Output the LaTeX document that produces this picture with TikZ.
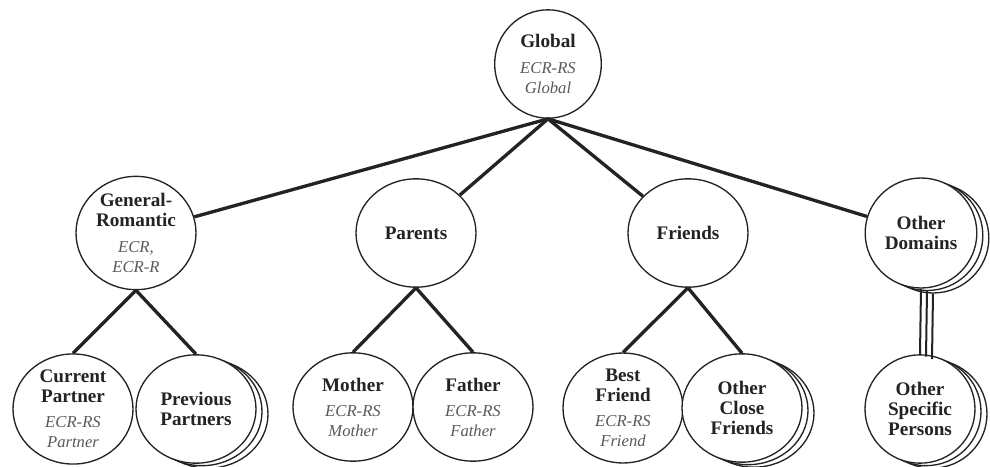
\documentclass[tikz,border=0pt]{standalone}
\usepackage{fontspec}
\setmainfont{Liberation Serif}
\usepackage{tikz}
\usetikzlibrary{shapes.geometric}
\definecolor{ink}{RGB}{35,35,35}
\definecolor{subink}{RGB}{90,90,90}
\newcommand{\scl}[1]{{\normalfont\itshape\fontsize{10}{11}\selectfont\color{subink}#1}}

\begin{document}
\begin{tikzpicture}[x=0.6pt, y=-0.6pt,
  dom/.style={draw=ink, ellipse, fill=white, line width=0.8pt, minimum width=72pt,
    minimum height=65pt, inner sep=0pt, align=center, font=\fontsize{11.5}{12}\selectfont\bfseries, text=ink},
  tie/.style={draw=ink, line width=2pt},
  ties/.style={draw=ink, line width=1.2pt}]
  \useasboundingbox (0,0) rectangle (990,466);
  % top
  \node[dom, minimum width=64pt, minimum height=65pt] (glob) at (548,64)
    {Global\\[4pt]\scl{ECR-RS}\\\scl{Global}};
  % domains
  \node[dom] (gr) at (136,233) {General-\\Romantic\\[4pt]\scl{ECR,}\\\scl{ECR-R}};
  \node[dom] (par) at (416,233) {Parents};
  \node[dom] (fri) at (688,233) {Friends};
  \node[dom, minimum width=67pt, minimum height=66pt] (odC) at (933,238) {};
  \node[dom, minimum width=67pt, minimum height=66pt] (odB) at (927,235.5) {};
  \node[dom, minimum width=67pt, minimum height=66pt] (od) at (921,233) {Other\\Domains};
  % specific persons
  \node[dom] (cur) at (73,409) {Current\\Partner\\[3pt]\scl{ECR-RS}\\\scl{Partner}};
  \node[dom] (prevC) at (208,414) {};
  \node[dom] (prevB) at (202,411.5) {};
  \node[dom] (prev) at (196,409) {Previous\\Partners};
  \node[dom] (mot) at (353,407) {Mother\\[3pt]\scl{ECR-RS}\\\scl{Mother}};
  \node[dom] (fat) at (473,407) {Father\\[3pt]\scl{ECR-RS}\\\scl{Father}};
  \node[dom] (best) at (623,408) {Best\\Friend\\[3pt]\scl{ECR-RS}\\\scl{Friend}};
  \node[dom] (ocfC) at (754,413) {};
  \node[dom] (ocfB) at (748,410.5) {};
  \node[dom] (ocf) at (742,408) {Other\\Close\\Friends};
  \node[dom, minimum width=66pt] (ospC) at (932,414) {};
  \node[dom, minimum width=66pt] (ospB) at (926,411.5) {};
  \node[dom, minimum width=66pt] (osp) at (920,409) {Other\\Specific\\Persons};
  \draw[tie] (glob.south) -- (gr);
  \draw[tie] (glob.south) -- (par);
  \draw[tie] (glob.south) -- (fri);
  \draw[tie] (glob.south) -- (od);
  \draw[tie] (gr.south) -- (cur.north);
  \draw[tie] (gr.south) -- (prev.north);
  \draw[tie] (par.south) -- (mot.north);
  \draw[tie] (par.south) -- (fat.north);
  \draw[tie] (fri.south) -- (best.north);
  \draw[tie] (fri.south) -- (ocf.north);
  \draw[ties] (od.south) -- (osp.north);
  \draw[ties] (odB.south) -- (ospB.north);
  \draw[ties] (odC.south) -- (ospC.north);
\end{tikzpicture}
\end{document}
